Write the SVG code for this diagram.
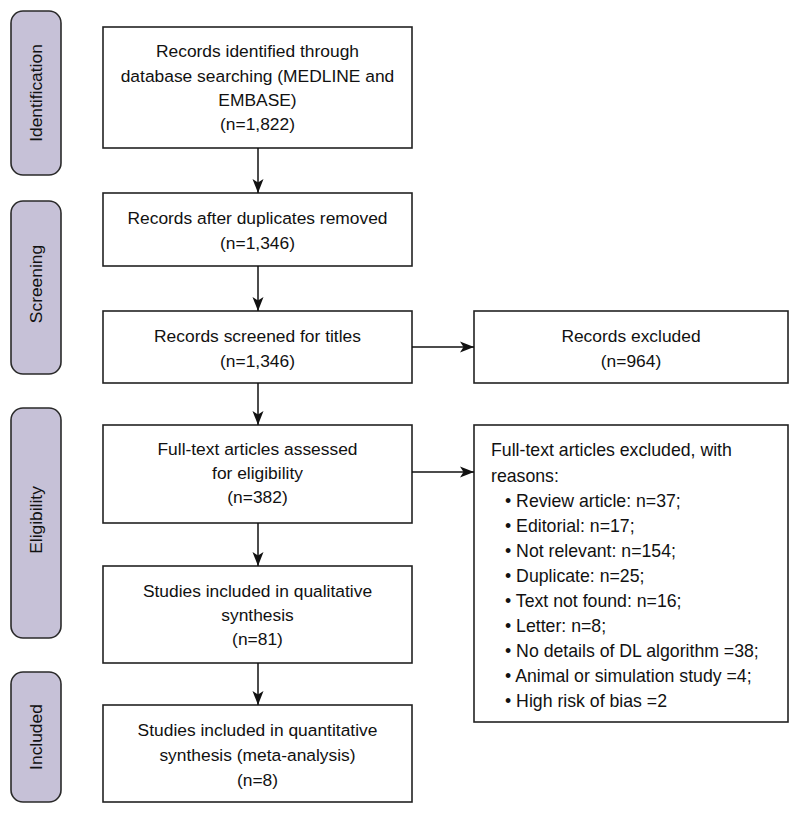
<svg xmlns="http://www.w3.org/2000/svg" width="800" height="814" viewBox="0 0 800 814">
<style>
text{font-family:"Liberation Sans",Arial,Helvetica,sans-serif;font-size:17.4px;fill:#111}
.c{text-anchor:middle}
.box{fill:#fff;stroke:#222;stroke-width:1.6}
.phase{fill:#c6c1d7;stroke:#2a2a2a;stroke-width:1.6}
.conn{stroke:#111;stroke-width:1.5;fill:none}
.r{font-size:17.7px}
</style>
<defs>
<marker id="ah" markerUnits="userSpaceOnUse" markerWidth="16" markerHeight="12" refX="14" refY="6" orient="auto">
<path d="M0,0.5 L14,6 L0,11.5 L3.5,6 Z" fill="#111"/>
</marker>
</defs>
<rect width="800" height="814" fill="#fff"/>
<g id="phase-identification"><rect class="phase" x="11" y="11" width="50" height="164" rx="12"/><text class="c" transform="translate(42,93) rotate(-90)">Identification</text></g>
<g id="phase-screening"><rect class="phase" x="11" y="201" width="50" height="173" rx="12"/><text class="c" transform="translate(42,284) rotate(-90)">Screening</text></g>
<g id="phase-eligibility"><rect class="phase" x="11" y="408" width="50" height="230" rx="12"/><text class="c" transform="translate(42,520) rotate(-90)">Eligibility</text></g>
<g id="phase-included"><rect class="phase" x="11" y="672" width="50" height="130" rx="12"/><text class="c" transform="translate(42,737) rotate(-90)">Included</text></g>
<g id="n1"><rect class="box" x="103" y="27" width="309" height="121"/>
<text class="c" x="257.5" y="57">Records identified through</text>
<text class="c" x="257.5" y="82">database searching (MEDLINE and</text>
<text class="c" x="257.5" y="106">EMBASE)</text>
<text class="c" x="257.5" y="130">(n=1,822)</text></g>
<g id="n2"><rect class="box" x="103" y="193" width="309" height="73"/>
<text class="c" x="257.5" y="224">Records after duplicates removed</text>
<text class="c" x="257.5" y="249">(n=1,346)</text></g>
<g id="n3"><rect class="box" x="103" y="311" width="309" height="72"/>
<text class="c" x="257.5" y="342">Records screened for titles</text>
<text class="c" x="257.5" y="367">(n=1,346)</text></g>
<g id="n4"><rect class="box" x="103" y="425" width="309" height="98"/>
<text class="c" x="257.5" y="455">Full-text articles assessed</text>
<text class="c" x="257.5" y="479">for eligibility</text>
<text class="c" x="257.5" y="503">(n=382)</text></g>
<g id="n5"><rect class="box" x="103" y="566" width="309" height="97"/>
<text class="c" x="257.5" y="597">Studies included in qualitative</text>
<text class="c" x="257.5" y="621">synthesis</text>
<text class="c" x="257.5" y="645">(n=81)</text></g>
<g id="n6"><rect class="box" x="103" y="705" width="309" height="97"/>
<text class="c" x="257.5" y="736">Studies included in quantitative</text>
<text class="c" x="257.5" y="761">synthesis (meta-analysis)</text>
<text class="c" x="257.5" y="786">(n=8)</text></g>
<g id="x1"><rect class="box" x="474" y="311" width="314" height="72"/>
<text class="c" x="631" y="342">Records excluded</text>
<text class="c" x="631" y="367">(n=964)</text></g>
<g id="x2"><rect class="box" x="474" y="425" width="314" height="297"/>
<text class="r" x="491" y="456">Full-text articles excluded, with</text>
<text class="r" x="491" y="482">reasons:</text>
<g id="bullets">
<text class="r" x="505" y="507">• Review article: n=37;</text>
<text class="r" x="505" y="532">• Editorial: n=17;</text>
<text class="r" x="505" y="557">• Not relevant: n=154;</text>
<text class="r" x="505" y="582">• Duplicate: n=25;</text>
<text class="r" x="505" y="607">• Text not found: n=16;</text>
<text class="r" x="505" y="632">• Letter: n=8;</text>
<text class="r" x="505" y="657">• No details of DL algorithm =38;</text>
<text class="r" x="505" y="682">• Animal or simulation study =4;</text>
<text class="r" x="505" y="707">• High risk of bias =2</text>
</g></g>
<g id="connectors">
<line class="conn" x1="258" y1="148" x2="258" y2="193" marker-end="url(#ah)"/>
<line class="conn" x1="258" y1="266" x2="258" y2="311" marker-end="url(#ah)"/>
<line class="conn" x1="258" y1="383" x2="258" y2="425" marker-end="url(#ah)"/>
<line class="conn" x1="258" y1="523" x2="258" y2="566" marker-end="url(#ah)"/>
<line class="conn" x1="258" y1="663" x2="258" y2="705" marker-end="url(#ah)"/>
<line class="conn" x1="412" y1="347" x2="474" y2="347" marker-end="url(#ah)"/>
<line class="conn" x1="412" y1="472" x2="474" y2="472" marker-end="url(#ah)"/>
</g>
</svg>
